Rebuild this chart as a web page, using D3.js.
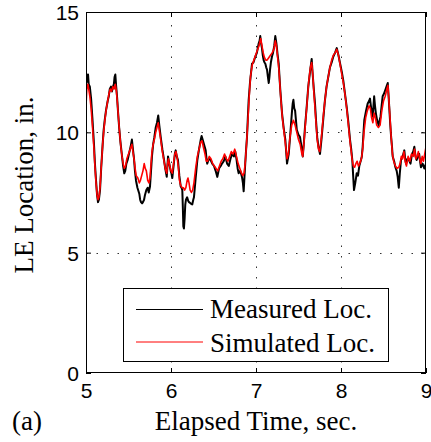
<!DOCTYPE html>
<html>
<head>
<meta charset="utf-8">
<script src="https://cdn.jsdelivr.net/npm/d3@7"></script>
<style>
  html, body { margin: 0; padding: 0; background: #fff; }
  svg { display: block; }
</style>
</head>
<body>
<svg id="chart" width="431" height="442"></svg>
<script>
// Leading-edge location, measured vs. simulated (time in s, location in in.)
const measuredTime = [
  5.000,5.008,5.015,5.024,5.032,5.045,5.060,5.075,5.094,5.105,5.118,5.130,5.141,5.152,5.165,5.180,5.196,5.208,5.220,5.235,
  5.255,5.268,5.280,5.294,5.305,5.318,5.328,5.336,5.345,5.355,5.365,5.378,5.390,5.405,5.424,5.437,5.450,5.462,5.475,5.490,
  5.505,5.518,5.530,5.540,5.552,5.565,5.576,5.588,5.605,5.627,5.637,5.647,5.660,5.670,5.683,5.694,5.710,5.726,5.738,5.753,
  5.765,5.776,5.790,5.804,5.812,5.820,5.835,5.850,5.862,5.879,5.898,5.918,5.932,5.950,5.958,5.965,5.980,5.996,6.005,6.015,
  6.030,6.045,6.055,6.068,6.082,6.098,6.114,6.124,6.133,6.140,6.145,6.152,6.160,6.168,6.176,6.190,6.203,6.212,6.230,6.250,
  6.262,6.270,6.290,6.310,6.330,6.350,6.360,6.368,6.388,6.408,6.418,6.426,6.445,6.467,6.485,6.506,6.525,6.545,6.565,6.585,
  6.600,6.620,6.640,6.660,6.680,6.700,6.718,6.740,6.756,6.770,6.784,6.796,6.815,6.835,6.846,6.855,6.862,6.870,6.882,6.894,
  6.904,6.914,6.930,6.953,6.970,6.992,7.010,7.032,7.042,7.050,7.060,7.070,7.080,7.090,7.100,7.110,7.120,7.130,7.140,7.150,
  7.158,7.165,7.175,7.188,7.200,7.215,7.227,7.240,7.255,7.267,7.285,7.306,7.325,7.345,7.355,7.365,7.375,7.385,7.405,7.424,
  7.432,7.440,7.450,7.460,7.480,7.500,7.518,7.535,7.550,7.562,7.576,7.595,7.615,7.635,7.655,7.665,7.680,7.694,7.708,7.720,
  7.735,7.753,7.770,7.790,7.810,7.830,7.850,7.870,7.890,7.910,7.930,7.950,7.970,7.990,8.010,8.027,8.047,8.067,8.087,8.106,
  8.120,8.133,8.143,8.153,8.168,8.185,8.200,8.215,8.235,8.245,8.255,8.265,8.274,8.295,8.314,8.330,8.341,8.355,8.373,8.382,
  8.390,8.400,8.410,8.425,8.443,8.455,8.465,8.478,8.490,8.505,8.520,8.535,8.550,8.560,8.570,8.580,8.590,8.600,8.608,8.625,
  8.640,8.655,8.667,8.674,8.680,8.692,8.706,8.725,8.745,8.755,8.765,8.782,8.800,8.818,8.835,8.850,8.863,8.877,8.890,8.905,
  8.920,8.930,8.940,8.960,8.980,9.000
];
const measuredLoc = [
  12.0,12.4,12.1,12.4,12.0,11.9,11.4,10.6,9.5,8.7,8.0,7.4,7.1,7.2,7.6,8.6,9.5,10.1,10.5,10.9,
  11.3,11.5,11.8,11.9,11.7,11.9,12.0,12.3,12.4,11.9,11.5,10.8,10.2,9.6,9.0,8.6,8.3,8.4,8.7,8.85,
  9.1,9.3,9.5,9.7,9.3,8.9,8.4,8.0,7.7,7.45,7.2,7.1,7.05,7.1,7.2,7.4,7.6,7.7,7.5,7.75,
  8.4,9.0,9.5,9.8,10.0,10.2,10.4,10.7,10.3,9.8,9.3,8.85,8.5,8.15,8.6,9.0,8.7,8.4,8.3,8.1,
  8.6,9.1,9.25,9.0,8.85,8.2,7.75,7.7,7.6,6.8,6.1,6.0,6.4,7.0,7.2,7.3,7.15,7.1,7.05,7.0,
  7.2,7.3,8.1,8.85,9.3,9.7,9.85,9.75,9.5,9.25,8.9,8.7,8.9,8.85,8.7,8.6,8.4,8.15,8.5,8.6,
  8.7,8.8,9.0,8.7,8.6,8.9,9.1,9.0,9.2,8.9,8.5,8.3,8.4,8.15,7.9,7.55,8.0,8.5,9.2,9.8,
  10.6,11.35,12.1,12.85,12.9,13.15,13.3,13.7,13.8,14.0,13.7,13.5,13.2,13.0,12.9,12.85,12.7,12.6,12.3,12.05,
  12.3,12.6,12.9,13.15,13.3,13.6,14.0,13.7,13.2,12.85,11.8,10.8,10.2,9.7,9.2,8.7,8.9,9.1,10.0,10.9,
  11.2,11.35,11.0,10.9,10.1,9.9,9.8,9.4,9.0,9.5,10.2,11.0,11.9,12.5,13.05,12.5,11.8,11.2,10.4,9.8,
  9.4,9.1,9.7,10.5,11.3,11.9,12.3,12.7,12.9,13.15,13.3,13.5,13.2,12.85,12.5,12.15,11.6,11.05,10.4,9.7,
  9.3,8.85,8.2,7.6,7.9,8.3,8.2,8.6,8.85,9.0,9.4,10.0,10.5,10.9,11.2,11.3,11.4,11.0,10.65,11.1,
  11.5,11.1,10.8,10.5,10.3,10.5,10.65,11.1,11.5,11.6,11.75,11.9,12.05,11.5,10.9,10.3,9.8,9.4,9.0,8.8,
  8.55,8.4,8.15,7.9,7.7,8.3,8.85,9.0,9.25,8.9,8.7,8.9,8.85,8.7,9.1,9.2,9.4,9.0,8.85,9.0,
  9.1,8.8,8.55,8.7,8.5,8.7
];
const simulatedTime = [
  5.000,5.010,5.022,5.032,5.045,5.060,5.075,5.094,5.105,5.118,5.130,5.141,5.152,5.165,5.180,5.196,5.210,5.225,5.240,5.255,
  5.270,5.285,5.300,5.315,5.330,5.345,5.358,5.370,5.382,5.395,5.410,5.424,5.437,5.450,5.465,5.480,5.500,5.520,5.540,5.552,
  5.565,5.578,5.590,5.610,5.627,5.640,5.655,5.670,5.685,5.697,5.710,5.726,5.740,5.753,5.765,5.776,5.790,5.804,5.820,5.835,
  5.850,5.862,5.879,5.898,5.918,5.932,5.950,5.960,5.970,5.985,6.000,6.015,6.030,6.045,6.058,6.070,6.085,6.100,6.114,6.130,
  6.145,6.160,6.175,6.190,6.200,6.212,6.225,6.240,6.255,6.270,6.290,6.310,6.330,6.350,6.365,6.380,6.400,6.415,6.430,6.450,
  6.470,6.490,6.510,6.530,6.550,6.570,6.590,6.610,6.630,6.650,6.670,6.690,6.710,6.730,6.750,6.770,6.790,6.810,6.830,6.845,
  6.860,6.875,6.890,6.905,6.920,6.935,6.955,6.975,6.995,7.015,7.035,7.055,7.070,7.085,7.100,7.115,7.130,7.150,7.170,7.190,
  7.210,7.227,7.240,7.255,7.270,7.290,7.310,7.330,7.350,7.365,7.380,7.400,7.420,7.440,7.460,7.480,7.500,7.520,7.540,7.550,
  7.565,7.580,7.600,7.620,7.640,7.655,7.668,7.682,7.694,7.708,7.720,7.735,7.750,7.770,7.790,7.810,7.830,7.850,7.870,7.890,
  7.910,7.930,7.950,7.970,7.990,8.010,8.030,8.050,8.070,8.090,8.110,8.130,8.145,8.160,8.175,8.190,8.205,8.220,8.240,8.255,
  8.270,8.290,8.310,8.330,8.345,8.360,8.375,8.390,8.405,8.420,8.440,8.460,8.480,8.500,8.520,8.540,8.552,8.562,8.575,8.590,
  8.605,8.620,8.640,8.660,8.680,8.695,8.710,8.725,8.740,8.755,8.770,8.790,8.810,8.830,8.850,8.865,8.880,8.895,8.910,8.925,
  8.940,8.955,8.970,8.985,9.000
];
const simulatedLoc = [
  11.1,11.8,12.0,11.8,11.5,11.0,10.3,9.3,8.6,7.9,7.4,7.2,7.3,7.7,8.6,9.5,10.1,10.6,11.0,11.3,
  11.6,11.8,11.7,11.9,11.8,12.0,11.7,11.2,10.6,10.0,9.4,9.0,8.7,8.5,8.6,8.9,9.1,9.3,9.5,9.2,
  8.9,8.5,8.2,8.1,7.9,8.0,8.2,8.4,8.7,8.5,8.4,8.0,7.9,8.1,8.7,9.2,9.5,9.7,10.0,10.2,
  10.4,10.1,9.7,9.2,8.8,8.5,8.3,8.7,8.9,8.6,8.4,8.3,8.7,9.1,9.2,9.0,8.6,8.0,7.8,7.7,
  7.7,7.6,7.7,8.0,8.1,7.9,7.6,7.5,7.6,7.9,8.5,9.0,9.3,9.6,9.65,9.4,9.1,8.8,8.8,9.0,
  8.9,8.7,8.6,8.5,8.4,8.6,8.8,8.9,9.1,8.9,8.8,9.0,9.2,9.1,9.3,9.0,8.7,8.5,8.3,8.2,
  8.3,8.8,9.6,10.5,11.5,12.3,12.8,13.0,13.2,13.4,13.6,13.9,13.6,13.3,13.1,13.0,13.0,13.1,13.2,13.3,
  13.45,13.8,13.6,13.1,12.6,11.5,10.6,10.0,9.4,8.9,9.1,9.8,10.3,10.5,10.3,10.0,9.7,9.5,9.1,9.0,
  9.6,10.3,11.2,12.1,12.7,12.9,12.4,11.6,11.0,10.3,9.7,9.3,9.2,9.8,10.6,11.3,11.9,12.3,12.7,13.0,
  13.2,13.3,13.45,13.2,12.8,12.4,12.0,11.5,10.9,10.2,9.5,8.9,8.6,8.55,8.7,8.8,8.6,8.7,8.9,9.3,
  10.0,10.6,10.9,11.1,11.0,10.6,10.4,10.8,10.6,10.3,10.2,10.3,10.9,11.3,11.5,11.8,11.95,11.4,10.7,9.8,
  9.1,8.8,8.6,8.5,8.55,8.7,9.0,8.9,9.2,8.8,8.6,9.0,8.8,9.1,9.0,9.3,8.9,9.0,9.2,8.9,
  8.7,9.0,8.8,9.1,9.4
];
const xTicks = [5, 6, 7, 8, 9];
const yTicks = [0, 5, 10, 15];
const gridX = [6, 7, 8];
const gridY = [5, 10];
const seriesNames = ["Measured Loc.", "Simulated Loc."];
const seriesColors = ["#000000", "#ff0000"];

const svg = d3.select("#chart");
const margin = { left: 86, right: 5, top: 12, bottom: 69 };
const W = 431, H = 442;
const x0 = margin.left, x1 = W - margin.right;
const y0 = H - margin.bottom, y1 = margin.top;

const x = d3.scaleLinear().domain([5, 9]).range([x0, x1]);
const y = d3.scaleLinear().domain([0, 15]).range([y0, y1]);

const sans = "'Liberation Sans', Arial, Helvetica, sans-serif";
const serif = "'Liberation Serif', 'Times New Roman', Times, serif";
const fmt = d3.format("d");

// dotted grid
const grid = svg.append("g").attr("stroke", "#333").attr("stroke-width", 1)
  .attr("stroke-dasharray", "1.5,9");
grid.selectAll("line.gx").data(gridX).join("line")
  .attr("x1", d => Math.round(x(d)) + 0.5).attr("x2", d => Math.round(x(d)) + 0.5)
  .attr("y1", y0).attr("y2", y1);
grid.selectAll("line.gy").data(gridY).join("line")
  .attr("y1", d => Math.round(y(d)) + 0.5).attr("y2", d => Math.round(y(d)) + 0.5)
  .attr("x1", x0).attr("x2", x1);

// data lines
svg.append("clipPath").attr("id", "plotClip").append("rect")
  .attr("x", x0).attr("y", y1).attr("width", x1 - x0).attr("height", y0 - y1);
const line = d3.line().x(d => x(d[0])).y(d => y(d[1]));
const measured = measuredTime.map((t, i) => [t, measuredLoc[i]]);
const simulated = simulatedTime.map((t, i) => [t, simulatedLoc[i]]);
const lines = svg.append("g").attr("clip-path", "url(#plotClip)");
lines.append("path").datum(measured).attr("d", line)
  .attr("fill", "none").attr("stroke", seriesColors[0]).attr("stroke-width", 2)
  .attr("stroke-linejoin", "round");
lines.append("path").datum(simulated).attr("d", line)
  .attr("fill", "none").attr("stroke", seriesColors[1]).attr("stroke-width", 1.6)
  .attr("stroke-linejoin", "round");

// axes with inward ticks on all four sides
const tickLen = 5;
const axB = svg.append("g").attr("transform", `translate(0,${y0})`)
  .call(d3.axisBottom(x).tickValues(xTicks).tickFormat(fmt).tickSizeInner(-tickLen).tickSizeOuter(0).tickPadding(10));
const axT = svg.append("g").attr("transform", `translate(0,${y1})`)
  .call(d3.axisTop(x).tickValues(xTicks).tickSizeInner(-tickLen).tickSizeOuter(0).tickFormat(""));
const axL = svg.append("g").attr("transform", `translate(${x0},0)`)
  .call(d3.axisLeft(y).tickValues(yTicks).tickFormat(fmt).tickSizeInner(-tickLen).tickSizeOuter(0).tickPadding(7));
const axR = svg.append("g").attr("transform", `translate(${x1},0)`)
  .call(d3.axisRight(y).tickValues(yTicks).tickSizeInner(-tickLen).tickSizeOuter(0).tickFormat(""));
[axB, axT, axL, axR].forEach(a => {
  a.select(".domain").remove();
  a.selectAll("line").attr("stroke", "#000");
  a.selectAll("text").attr("fill", "#000").style("font-family", sans).style("font-size", "21px");
});
axB.selectAll("text").attr("dy", "0.71em");
axL.selectAll("text").attr("dy", "0.36em");

// frame
svg.append("rect").attr("x", x0 + 0.5).attr("y", y1 + 0.5)
  .attr("width", x1 - x0 - 1).attr("height", y0 - y1 - 1)
  .attr("fill", "none").attr("stroke", "#000").attr("stroke-width", 1);

// legend
const lg = svg.append("g");
lg.append("rect").attr("x", 123.5).attr("y", 288.5).attr("width", 265).attr("height", 73)
  .attr("fill", "#fff").attr("stroke", "#000").attr("stroke-width", 1);
seriesNames.forEach((name, i) => {
  const cy = 309.5 + i * 32.5;
  lg.append("line").attr("x1", 136).attr("x2", 203).attr("y1", cy).attr("y2", cy)
    .attr("stroke", seriesColors[i]).attr("stroke-width", 1);
  lg.append("text").attr("x", 210).attr("y", 318 + i * 33.5).text(name)
    .style("font-family", serif).style("font-size", "27px").attr("fill", "#000");
});

// axis titles
svg.append("text").attr("x", 256).attr("y", 430).attr("text-anchor", "middle")
  .style("font-family", serif).style("font-size", "27px").text("Elapsed Time, sec.");
svg.append("text").attr("x", 12).attr("y", 430)
  .style("font-family", serif).style("font-size", "27px").text("(a)");
svg.append("text").attr("transform", `translate(33,185) rotate(-90)`)
  .attr("text-anchor", "middle")
  .style("font-family", serif).style("font-size", "27px").text("LE Location, in.");
</script>
</body>
</html>
